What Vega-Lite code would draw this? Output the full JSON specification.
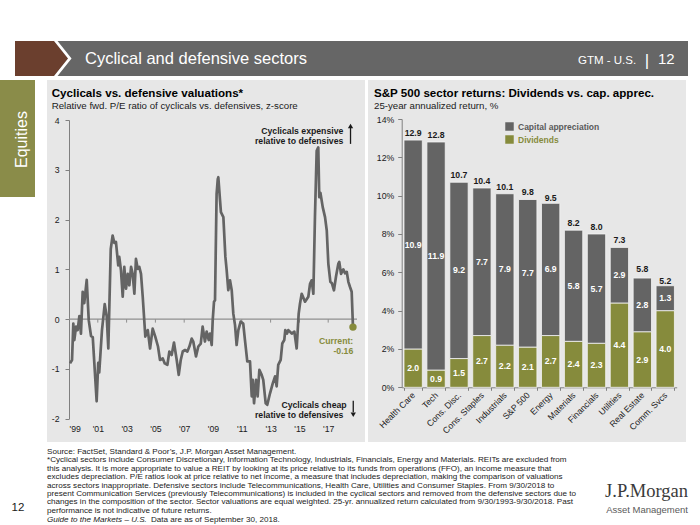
{
  "$schema": "https://vega.github.io/schema/vega-lite/v6.json",
  "padding": 0,
  "background": "white",
  "spacing": 0,
  "config": {"view": {"stroke": null}, "font": "Liberation Sans", "axis": {"labelOverlap": false}},
  "datasets": {
    "pe": [
      {"t":1999.07,"z":-0.89},{"t":1999.21,"z":-0.82},{"t":1999.30,"z":-0.09},{"t":1999.37,"z":-0.42},{"t":1999.49,"z":-0.15},{"t":1999.60,"z":-0.22},{"t":1999.72,"z":0.06},{"t":1999.83,"z":-0.29},{"t":1999.95,"z":0.55},
      {"t":2000.06,"z":0.32},{"t":2000.23,"z":0.79},{"t":2000.37,"z":-0.02},{"t":2000.53,"z":-0.34},{"t":2000.65,"z":-0.36},{"t":2000.76,"z":-0.89},{"t":2000.92,"z":-1.65},
      {"t":2001.03,"z":-0.88},{"t":2001.10,"z":-1.07},{"t":2001.29,"z":-0.22},{"t":2001.48,"z":0.30},{"t":2001.62,"z":0.05},{"t":2001.73,"z":-0.59},{"t":2001.90,"z":1.41},
      {"t":2002.03,"z":1.68},{"t":2002.15,"z":1.53},{"t":2002.26,"z":1.55},{"t":2002.42,"z":1.08},{"t":2002.49,"z":1.25},{"t":2002.61,"z":0.98},{"t":2002.73,"z":0.45},{"t":2002.84,"z":1.05},{"t":2002.96,"z":0.61},
      {"t":2003.08,"z":0.91},{"t":2003.19,"z":0.68},{"t":2003.31,"z":1.05},{"t":2003.42,"z":0.91},{"t":2003.54,"z":0.51},{"t":2003.65,"z":1.21},{"t":2003.77,"z":1.01},{"t":2003.88,"z":1.05},
      {"t":2004.00,"z":0.91},{"t":2004.12,"z":0.45},{"t":2004.30,"z":-0.35},{"t":2004.47,"z":-0.22},{"t":2004.63,"z":-0.59},{"t":2004.81,"z":-0.19},{"t":2004.99,"z":-0.35},
      {"t":2005.18,"z":-0.55},{"t":2005.32,"z":-0.82},{"t":2005.51,"z":-0.79},{"t":2005.65,"z":-0.89},{"t":2005.83,"z":-0.92},{"t":2005.97,"z":-0.65},
      {"t":2006.13,"z":-0.72},{"t":2006.29,"z":-0.47},{"t":2006.48,"z":-0.82},{"t":2006.62,"z":-1.12},{"t":2006.76,"z":-0.82},{"t":2006.90,"z":-0.65},
      {"t":2007.06,"z":-0.62},{"t":2007.22,"z":-0.65},{"t":2007.36,"z":-0.55},{"t":2007.52,"z":-0.39},{"t":2007.63,"z":-0.45},{"t":2007.82,"z":-0.75},{"t":2007.98,"z":-0.55},
      {"t":2008.15,"z":-0.49},{"t":2008.28,"z":-0.15},{"t":2008.44,"z":-0.45},{"t":2008.56,"z":-0.25},{"t":2008.70,"z":-0.42},{"t":2008.79,"z":-0.29},{"t":2008.91,"z":-0.52},{"t":2008.98,"z":-0.02},
      {"t":2009.07,"z":0.35},{"t":2009.14,"z":0.38},{"t":2009.25,"z":2.51},{"t":2009.33,"z":2.81},{"t":2009.37,"z":2.85},{"t":2009.49,"z":2.38},{"t":2009.55,"z":2.15},{"t":2009.72,"z":2.05},{"t":2009.86,"z":1.25},{"t":2009.95,"z":0.98},
      {"t":2010.06,"z":0.58},{"t":2010.18,"z":0.78},{"t":2010.30,"z":0.58},{"t":2010.41,"z":0.11},{"t":2010.53,"z":-0.12},{"t":2010.64,"z":-0.52},{"t":2010.76,"z":-0.22},{"t":2010.92,"z":-0.05},
      {"t":2011.10,"z":-0.09},{"t":2011.22,"z":-0.42},{"t":2011.38,"z":-0.85},{"t":2011.57,"z":-0.85},{"t":2011.69,"z":-1.55},{"t":2011.76,"z":-1.22},{"t":2011.85,"z":-1.69},{"t":2011.99,"z":-1.22},
      {"t":2012.10,"z":-1.55},{"t":2012.22,"z":-1.02},{"t":2012.38,"z":-1.12},{"t":2012.49,"z":-1.22},{"t":2012.66,"z":-1.69},{"t":2012.77,"z":-1.72},{"t":2012.96,"z":-1.49},
      {"t":2013.15,"z":-1.29},{"t":2013.31,"z":-1.15},{"t":2013.42,"z":-1.35},{"t":2013.53,"z":-0.92},{"t":2013.70,"z":-0.82},{"t":2013.81,"z":-0.49},{"t":2013.95,"z":-0.42},
      {"t":2014.02,"z":-0.22},{"t":2014.14,"z":-0.29},{"t":2014.23,"z":-0.22},{"t":2014.47,"z":-0.29},{"t":2014.65,"z":-0.25},{"t":2014.81,"z":-0.59},{"t":2014.95,"z":0.11},
      {"t":2015.04,"z":0.31},{"t":2015.16,"z":0.51},{"t":2015.39,"z":0.35},{"t":2015.62,"z":0.45},{"t":2015.74,"z":0.71},{"t":2015.85,"z":0.78},{"t":2015.97,"z":0.51},
      {"t":2016.08,"z":2.05},{"t":2016.20,"z":3.38},{"t":2016.31,"z":3.45},{"t":2016.38,"z":2.45},{"t":2016.46,"z":2.54},{"t":2016.62,"z":2.25},{"t":2016.78,"z":2.05},{"t":2016.90,"z":1.78},
      {"t":2017.01,"z":1.11},{"t":2017.15,"z":0.75},{"t":2017.26,"z":0.72},{"t":2017.40,"z":0.58},{"t":2017.54,"z":0.85},{"t":2017.70,"z":1.11},{"t":2017.77,"z":1.15},{"t":2017.89,"z":0.91},
      {"t":2018.05,"z":1.00},{"t":2018.17,"z":0.92},{"t":2018.29,"z":0.95},{"t":2018.40,"z":0.75},{"t":2018.51,"z":0.65},{"t":2018.63,"z":0.55},{"t":2018.72,"z":-0.16}
    ],
    "xt": [{"t":2001},{"t":2003},{"t":2005},{"t":2007},{"t":2009},{"t":2011},{"t":2013},{"t":2015},{"t":2017}],
    "ret": [
      {"sector":"Health Care","component":"Dividends","v":2.0,"total":12.9},{"sector":"Health Care","component":"Capital appreciation","v":10.9,"total":12.9},
      {"sector":"Tech","component":"Dividends","v":0.9,"total":12.8},{"sector":"Tech","component":"Capital appreciation","v":11.9,"total":12.8},
      {"sector":"Cons. Disc.","component":"Dividends","v":1.5,"total":10.7},{"sector":"Cons. Disc.","component":"Capital appreciation","v":9.2,"total":10.7},
      {"sector":"Cons. Staples","component":"Dividends","v":2.7,"total":10.4},{"sector":"Cons. Staples","component":"Capital appreciation","v":7.7,"total":10.4},
      {"sector":"Industrials","component":"Dividends","v":2.2,"total":10.1},{"sector":"Industrials","component":"Capital appreciation","v":7.9,"total":10.1},
      {"sector":"S&P 500","component":"Dividends","v":2.1,"total":9.8},{"sector":"S&P 500","component":"Capital appreciation","v":7.7,"total":9.8},
      {"sector":"Energy","component":"Dividends","v":2.7,"total":9.5},{"sector":"Energy","component":"Capital appreciation","v":6.9,"total":9.5},
      {"sector":"Materials","component":"Dividends","v":2.4,"total":8.2},{"sector":"Materials","component":"Capital appreciation","v":5.8,"total":8.2},
      {"sector":"Financials","component":"Dividends","v":2.3,"total":8.0},{"sector":"Financials","component":"Capital appreciation","v":5.7,"total":8.0},
      {"sector":"Utilities","component":"Dividends","v":4.4,"total":7.3},{"sector":"Utilities","component":"Capital appreciation","v":2.9,"total":7.3},
      {"sector":"Real Estate","component":"Dividends","v":2.9,"total":5.8},{"sector":"Real Estate","component":"Capital appreciation","v":2.8,"total":5.8},
      {"sector":"Comm. Svcs","component":"Dividends","v":4.0,"total":5.2},{"sector":"Comm. Svcs","component":"Capital appreciation","v":1.3,"total":5.2}
    ]
  },
  "vconcat": [
    {"width": 700, "height": 41, "view": {"fill": "#ffffff", "stroke": null}, "data": {"values": []}, "mark": "point"},
    {
      "spacing": 0, "bounds": "flush",
      "hconcat": [
        {"width": 48, "height": 35, "view": {"fill": "#ffffff", "stroke": null}, "data": {"values": []}, "mark": "point"},
        {
          "width": 640, "height": 35,
          "view": {"fill": "#666666", "stroke": null},
          "data": {"values": [{}]},
          "layer": [
            {"mark": {"type": "point", "shape": "M -20.17 -1 L -17.94 -1 L -17.14 0 L -17.94 1 L -20.17 1 Z", "size": 1225, "filled": true, "fill": "#6b3f2e", "strokeWidth": 0, "opacity": 1}},
            {"mark": {"type": "point", "shape": "M -17.94 -1 L -17.74 -1 L -16.94 0 L -17.74 1 L -17.94 1 L -17.14 0 Z", "size": 1225, "filled": true, "fill": "#ffffff", "strokeWidth": 0, "opacity": 1}},
            {"mark": {"type": "text", "text": "Cyclical and defensive sectors", "fontSize": 16.5, "color": "#ffffff", "align": "left", "baseline": "alphabetic", "dx": -283, "dy": 5.9}},
            {"mark": {"type": "text", "text": "GTM - U.S.", "fontSize": 11.5, "color": "#ffffff", "align": "left", "baseline": "alphabetic", "dx": 210, "dy": 5.9}},
            {"mark": {"type": "text", "text": "|", "fontSize": 17, "color": "#ffffff", "align": "center", "baseline": "alphabetic", "dx": 279, "dy": 7}},
            {"mark": {"type": "text", "text": "12", "fontSize": 15, "color": "#ffffff", "align": "left", "baseline": "alphabetic", "dx": 290, "dy": 5.9}}
          ]
        }
      ]
    },
    {"width": 700, "height": 4, "view": {"fill": "#ffffff", "stroke": null}, "data": {"values": []}, "mark": "point"},
    {
      "spacing": 0, "bounds": "flush",
      "hconcat": [
        {
          "width": 35, "height": 117,
          "view": {"fill": "#8a8c49", "stroke": null},
          "data": {"values": [{}]},
          "mark": {"type": "text", "text": "Equities", "angle": 270, "fontSize": 16, "color": "#ffffff", "align": "center", "baseline": "middle", "dx": -1, "dy": 4}
        },
        {"width": 12, "height": 362, "view": {"fill": "#ffffff", "stroke": null}, "data": {"values": []}, "mark": "point"},
        {
          "width": 318, "height": 362,
          "view": {"fill": "#e7e7e7", "stroke": null},
          "layer": [
            {
              "data": {"values": [{}]},
              "mark": {"type": "rule", "color": "#8f8f8f", "strokeWidth": 1.3},
              "encoding": {
                "x": {"datum": 1999, "type": "quantitative", "title": null,
                  "scale": {"domain": [1999, 2019], "range": [22, 310], "nice": false, "zero": false},
                  "axis": {"orient": "bottom", "offset": -23.3, "title": null, "values": [1999, 2001, 2003, 2005, 2007, 2009, 2011, 2013, 2015, 2017], "tickCount": 20,
                    "labelExpr": "\"'\" + substring(toString(datum.value), 2, 4)", "domain": false, "ticks": false, "tickSize": 0, "labelPadding": 6,
                    "grid": false, "labelFontSize": 8.7, "labelColor": "#1a1a1a", "labelFlush": true, "labelOverlap": false, "labelSeparation": 0}},
                "x2": {"datum": 2019},
                "y": {"datum": 0, "type": "quantitative", "title": null,
                  "scale": {"domain": [-2, 4], "range": [338.7, 40], "nice": false, "zero": false},
                  "axis": {"orient": "left", "offset": -22, "title": null, "values": [-2, -1, 0, 1, 2, 3, 4], "tickCount": 20, "labelExpr": "datum.value + ''",
                    "domain": true, "domainColor": "#808080", "ticks": true, "tickSize": 4, "tickColor": "#808080", "labelPadding": 6,
                    "grid": false, "labelFontSize": 8.7, "labelColor": "#1a1a1a", "labelOverlap": false}}
              }
            },
            {
              "data": {"name": "xt"},
              "mark": {"type": "rule", "color": "#8f8f8f", "strokeWidth": 1},
              "encoding": {"x": {"field": "t", "type": "quantitative"}, "y": {"datum": 0}, "y2": {"datum": -0.07}}
            },
            {
              "data": {"name": "pe"},
              "mark": {"type": "line", "color": "#646464", "strokeWidth": 2.7, "strokeJoin": "round"},
              "encoding": {
                "x": {"field": "t", "type": "quantitative", "title": null},
                "y": {"field": "z", "type": "quantitative", "title": null}
              }
            },
            {
              "data": {"name": "pe"},
              "transform": [{"filter": "datum.t > 2018.7"}],
              "mark": {"type": "point", "filled": true, "color": "#868b3c", "size": 55, "opacity": 1},
              "encoding": {"x": {"field": "t", "type": "quantitative"}, "y": {"field": "z", "type": "quantitative"}}
            },
            {"data": {"values": [{}]}, "mark": {"type": "text", "align": "right", "baseline": "middle", "fontSize": 8.7, "fontWeight": "bold", "color": "#1a1a1a"},
              "encoding": {"x": {"datum": 2018.05}, "y": {"datum": 3.77}, "text": {"value": "Cyclicals expensive"}}},
            {"data": {"values": [{}]}, "mark": {"type": "text", "align": "right", "baseline": "middle", "fontSize": 8.7, "fontWeight": "bold", "color": "#1a1a1a"},
              "encoding": {"x": {"datum": 2018.05}, "y": {"datum": 3.57}, "text": {"value": "relative to defensives"}}},
            {"data": {"values": [{}]}, "mark": {"type": "rule", "color": "#1a1a1a", "strokeWidth": 1.3},
              "encoding": {"x": {"datum": 2018.55}, "y": {"datum": 3.52}, "y2": {"datum": 3.84}}},
            {"data": {"values": [{}]}, "mark": {"type": "point", "shape": "triangle-up", "filled": true, "color": "#1a1a1a", "size": 28, "opacity": 1},
              "encoding": {"x": {"datum": 2018.55}, "y": {"datum": 3.88}}},
            {"data": {"values": [{}]}, "mark": {"type": "text", "align": "right", "baseline": "middle", "fontSize": 8.7, "fontWeight": "bold", "color": "#1a1a1a"},
              "encoding": {"x": {"datum": 2018.28}, "y": {"datum": -1.72}, "text": {"value": "Cyclicals cheap"}}},
            {"data": {"values": [{}]}, "mark": {"type": "text", "align": "right", "baseline": "middle", "fontSize": 8.7, "fontWeight": "bold", "color": "#1a1a1a"},
              "encoding": {"x": {"datum": 2018.05}, "y": {"datum": -1.92}, "text": {"value": "relative to defensives"}}},
            {"data": {"values": [{}]}, "mark": {"type": "rule", "color": "#1a1a1a", "strokeWidth": 1.3},
              "encoding": {"x": {"datum": 2018.74}, "y": {"datum": -1.64}, "y2": {"datum": -1.87}}},
            {"data": {"values": [{}]}, "mark": {"type": "point", "shape": "triangle-down", "filled": true, "color": "#1a1a1a", "size": 28, "opacity": 1},
              "encoding": {"x": {"datum": 2018.74}, "y": {"datum": -1.92}}},
            {"data": {"values": [{}]}, "mark": {"type": "text", "align": "right", "baseline": "middle", "fontSize": 8.7, "fontWeight": "bold", "color": "#868b3c"},
              "encoding": {"x": {"datum": 2018.74}, "y": {"datum": -0.44}, "text": {"value": "Current:"}}},
            {"data": {"values": [{}]}, "mark": {"type": "text", "align": "right", "baseline": "middle", "fontSize": 8.7, "fontWeight": "bold", "color": "#868b3c"},
              "encoding": {"x": {"datum": 2018.74}, "y": {"datum": -0.64}, "text": {"value": "-0.16"}}},
            {"data": {"values": [{}]}, "mark": {"type": "text", "text": "Cyclicals vs. defensive valuations*", "align": "left", "baseline": "middle", "fontSize": 11.6, "fontWeight": "bold", "color": "#000000", "dx": -154.3, "dy": -166.8}},
            {"data": {"values": [{}]}, "mark": {"type": "text", "text": "Relative fwd. P/E ratio of cyclicals vs. defensives, z-score", "align": "left", "baseline": "middle", "fontSize": 9.7, "color": "#1a1a1a", "dx": -154.3, "dy": -155.5}}
          ]
        },
        {"width": 3, "height": 362, "view": {"fill": "#ffffff", "stroke": null}, "data": {"values": []}, "mark": "point"},
        {
          "width": 318, "height": 362,
          "view": {"fill": "#e7e7e7", "stroke": null},
          "layer": [
            {
              "data": {"name": "ret"},
              "mark": {"type": "bar", "stroke": "#f4f4f4", "strokeWidth": 0.8},
              "encoding": {
                "x": {"field": "sector", "type": "nominal", "sort": null, "title": null,
                  "scale": {"range": [33.7, 308.7], "paddingInner": 0.2, "paddingOuter": 0.1},
                  "axis": {"orient": "bottom", "offset": -54.7, "title": null, "labelAngle": -45, "labelAlign": "right", "labelBaseline": "middle",
                    "labelPadding": 3, "tickSize": 3, "tickBand": "extent", "domainColor": "#808080", "tickColor": "#808080",
                    "labelFontSize": 8.7, "labelColor": "#1a1a1a", "labelOverlap": false, "labelBound": false, "labelLimit": 200}},
                "y": {"field": "v", "type": "quantitative", "stack": "zero", "title": null,
                  "scale": {"domain": [0, 14], "range": [307.3, 39], "nice": false, "zero": true},
                  "axis": {"orient": "left", "offset": -33.7, "title": null, "values": [0, 2, 4, 6, 8, 10, 12, 14], "tickCount": 20, "labelExpr": "datum.value + '%'",
                    "tickSize": 4, "labelPadding": 4, "domainColor": "#808080", "tickColor": "#808080", "grid": false,
                    "labelFontSize": 8.7, "labelColor": "#1a1a1a"}},
                "color": {"field": "component", "type": "nominal",
                  "scale": {"domain": ["Capital appreciation", "Dividends"], "range": ["#646464", "#868b3c"]},
                  "legend": {"orient": "none", "legendX": 505, "legendY": 122, "title": null, "padding": 0, "symbolType": "square", "symbolSize": 72,
                    "symbolStrokeWidth": 0, "labelFontSize": 8.5, "labelFontWeight": "bold", "labelOffset": 4, "rowPadding": 4,
                    "labelColor": {"expr": "datum.value === 'Dividends' ? '#868b3c' : '#5a5a5a'"}}},
                "order": {"field": "component", "sort": "descending"}
              }
            },
            {
              "data": {"name": "ret"},
              "mark": {"type": "text", "color": "#ffffff", "fontWeight": "bold", "fontSize": 8.7, "baseline": "middle"},
              "encoding": {
                "x": {"field": "sector", "type": "nominal", "sort": null},
                "y": {"field": "v", "type": "quantitative", "stack": "zero", "bandPosition": 0.5},
                "detail": {"field": "component"},
                "order": {"field": "component", "sort": "descending"},
                "text": {"field": "v", "type": "quantitative", "format": ".1f"}
              }
            },
            {
              "data": {"name": "ret"},
              "transform": [{"filter": "datum.component === 'Dividends'"}],
              "mark": {"type": "text", "color": "#1a1a1a", "fontWeight": "bold", "fontSize": 8.7, "baseline": "bottom", "dy": -2},
              "encoding": {
                "x": {"field": "sector", "type": "nominal", "sort": null},
                "y": {"field": "total", "type": "quantitative"},
                "text": {"field": "total", "type": "quantitative", "format": ".1f"}
              }
            },
            {"data": {"values": [{}]}, "mark": {"type": "text", "text": "S&P 500 sector returns: Dividends vs. cap. apprec.", "align": "left", "baseline": "middle", "fontSize": 11.6, "fontWeight": "bold", "color": "#000000", "dx": -153, "dy": -166.8}},
            {"data": {"values": [{}]}, "mark": {"type": "text", "text": "25-year annualized return, %", "align": "left", "baseline": "middle", "fontSize": 9.7, "color": "#1a1a1a", "dx": -153, "dy": -155.5}}
          ]
        }
      ]
    },
    {
      "width": 700, "height": 83,
      "view": {"fill": "#ffffff", "stroke": null},
      "data": {"values": [{}]},
      "layer": [
        {"mark": {"type": "text", "align": "left", "baseline": "top", "fontSize": 8.1, "lineHeight": 8.4, "color": "#1a1a1a", "dx": -303, "dy": -35.5,
          "text": [
            "Source: FactSet, Standard & Poor’s, J.P. Morgan Asset Management.",
            "*Cyclical sectors include Consumer Discretionary, Information Technology, Industrials, Financials, Energy and Materials. REITs are excluded from",
            "this analysis. It is more appropriate to value a REIT by looking at its price relative to its funds from operations (FFO), an income measure that",
            "excludes depreciation. P/E ratios look at price relative to net income, a measure that includes depreciation, making the comparison of valuations",
            "across sectors inappropriate. Defensive sectors include Telecommunications, Health Care, Utilities and Consumer Staples. From 9/30/2018 to",
            "present Communication Services (previously Telecommunications) is included in the cyclical sectors and removed from the defensive sectors due to",
            "changes in the composition of the sector. Sector valuations are equal weighted. 25-yr. annualized return calculated from 9/30/1993-9/30/2018. Past",
            "performance is not indicative of future returns."
          ]}},
        {"mark": {"type": "text", "align": "left", "baseline": "middle", "fontSize": 8.1, "fontStyle": "italic", "color": "#1a1a1a", "dx": -303, "dy": 36.2, "text": "Guide to the Markets – U.S."}},
        {"mark": {"type": "text", "align": "left", "baseline": "middle", "fontSize": 8.1, "color": "#1a1a1a", "dx": -199, "dy": 36.2, "text": "Data are as of September 30, 2018."}},
        {"mark": {"type": "text", "align": "center", "baseline": "middle", "fontSize": 11.5, "color": "#1a1a1a", "dx": -332, "dy": 24.5, "text": "12"}},
        {"mark": {"type": "text", "align": "right", "baseline": "middle", "font": "Liberation Serif", "fontSize": 18.5, "color": "#3a3a3a", "dx": 338, "dy": 7, "text": "J.P.Morgan"}},
        {"mark": {"type": "text", "align": "right", "baseline": "middle", "fontSize": 9.5, "color": "#5a5a5a", "dx": 338, "dy": 26.5, "text": "Asset Management"}}
      ]
    }
  ]
}
